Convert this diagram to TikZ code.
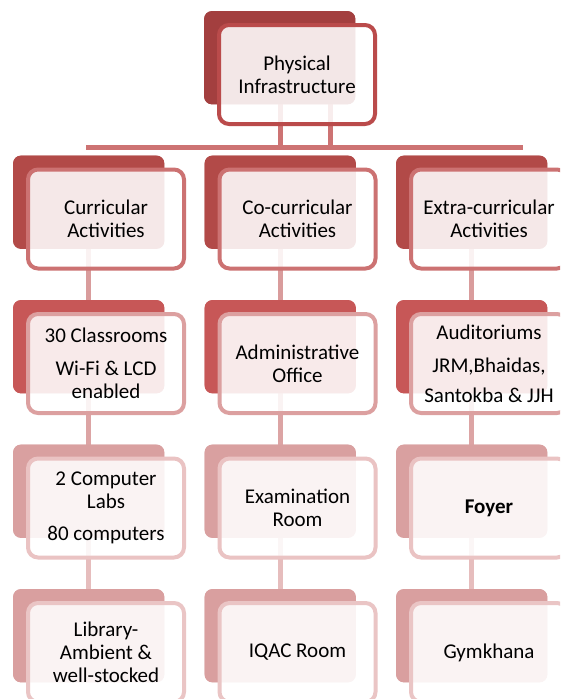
\documentclass[tikz,border=0pt]{standalone}
\usepackage{fontspec}
\setmainfont{Carlito}
\definecolor{bk0}{HTML}{A33F3F}
\definecolor{bk1}{HTML}{B24A48}
\definecolor{bk2}{HTML}{C75757}
\definecolor{bk3}{HTML}{D9A0A0}
\definecolor{bk4}{HTML}{D99F9F}
\definecolor{fr0}{HTML}{BA4B4B}
\definecolor{fr1}{HTML}{CC7272}
\definecolor{fr2}{HTML}{DCA0A0}
\definecolor{fr3}{HTML}{EAC3C3}
\definecolor{fr4}{HTML}{EAC5C5}
\definecolor{ln0}{HTML}{CD7373}
\definecolor{ln1}{HTML}{D99C9C}
\definecolor{ln2}{HTML}{DCA4A4}
\definecolor{ln3}{HTML}{E6BDBD}
\begin{document}
\begin{tikzpicture}[x=1pt,y=-1pt,
  backbox/.style={fill=#1, rounded corners=8pt, minimum width=151pt,
    minimum height=93pt, inner sep=0pt, anchor=north west},
  frontbox/.style={draw=#1, line width=4pt, fill=white, fill opacity=0.88,
    text opacity=1, rounded corners=10pt, minimum width=156pt,
    minimum height=99pt, inner sep=0pt, align=center, text=black,
    font=\fontsize{21}{23}\selectfont},
  link/.style={draw=#1, line width=5pt}]
\useasboundingbox (0,0) rectangle (560,699);
\clip (0,0) rectangle (560,699);
\fill[white] (0,0) rectangle (560,699);

% connector coordinates
\coordinate (busL) at (86,147);
\coordinate (busR) at (523,147);
\coordinate (topA) at (280,104);
\coordinate (topB) at (330,104);
\coordinate (busA) at (280,147);
\coordinate (busB) at (330,147);

% column back boxes are placed first so the links can refer to them
\path
  (204,11)    node[backbox=bk0] (b0) {}
  (13,155.5)  node[backbox=bk1] (b11) {}
  (204.5,155.5) node[backbox=bk1] (b12) {}
  (396,155.5) node[backbox=bk1] (b13) {}
  (13,300)    node[backbox=bk2] (b21) {}
  (204.5,300) node[backbox=bk2] (b22) {}
  (396,300)   node[backbox=bk2] (b23) {}
  (13,444.5)  node[backbox=bk3] (b31) {}
  (204.5,444.5) node[backbox=bk3] (b32) {}
  (396,444.5) node[backbox=bk3] (b33) {}
  (13,589)    node[backbox=bk4] (b41) {}
  (204.5,589) node[backbox=bk4] (b42) {}
  (396,589)   node[backbox=bk4] (b43) {};

% links
\draw[link=ln0] (topA) -- (busA);
\draw[link=ln0] (topB) -- (busB);
\draw[link=ln0] (busL) -- (busR);
\foreach \c in {1,2,3}{
  \draw[link=ln1] (b1\c.south) -- (b2\c.north);
  \draw[link=ln2] (b2\c.south) -- (b3\c.north);
  \draw[link=ln3] (b3\c.south) -- (b4\c.north);
}

% back boxes drawn over the link ends
\foreach \n/\col in {b0/bk0,b11/bk1,b12/bk1,b13/bk1,b21/bk2,b22/bk2,b23/bk2,
                     b31/bk3,b32/bk3,b33/bk3,b41/bk4,b42/bk4,b43/bk4}{
  \fill[\col, rounded corners=8pt] (\n.north west) rectangle (\n.south east);
}

% front boxes with the labels
\node[frontbox=fr0] (f0) at (297,74.5) {Physical\\Infrastructure};

\node[frontbox=fr1] (f11) at (106,219) {Curricular\\Activities};
\node[frontbox=fr1] (f12) at (297.5,219) {Co-curricular\\Activities};
\node[frontbox=fr1] (f13) at (489,219) {Extra-curricular\\Activities};

\node[frontbox=fr2] (f21) at (106,363.5) {30 Classrooms\\[10pt]Wi-Fi \& LCD\\enabled};
\node[frontbox=fr2] (f22) at (297.5,363.5) {Administrative\\Office};
\node[frontbox=fr2] (f23) at (489,363.5) {Auditoriums\\[10pt]JRM,Bhaidas,\\[7pt]Santokba \& JJH};

\node[frontbox=fr3] (f31) at (106,508) {2 Computer\\Labs\\[9pt]80 computers};
\node[frontbox=fr3] (f32) at (297.5,508) {Examination\\Room};
\node[frontbox=fr3] (f33) at (489,508) {\textbf{Foyer}};

\node[frontbox=fr4] (f41) at (106,652.5) {Library-\\Ambient \&\\well-stocked};
\node[frontbox=fr4] (f42) at (297.5,652.5) {IQAC Room};
\node[frontbox=fr4] (f43) at (489,652.5) {Gymkhana};
\end{tikzpicture}
\end{document}
